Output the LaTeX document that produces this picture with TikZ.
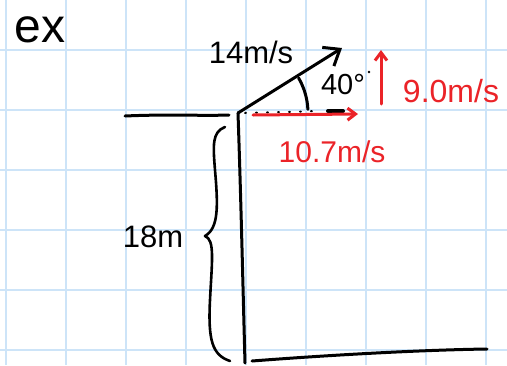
\documentclass[tikz,border=0pt]{standalone}
\usepackage{fontspec}
\setmainfont{Liberation Sans}
\usetikzlibrary{arrows.meta}
\definecolor{gridblue}{RGB}{205,228,248}
\definecolor{inkred}{RGB}{235,35,40}
\tikzset{
  ink/.style={line width=3pt, line cap=round, line join=round, black},
  redink/.style={line width=3pt, line cap=round, line join=round, inkred},
  hand/.style={font=\fontsize{30}{30}\selectfont, inner sep=0pt},
  barb/.style={-{Straight Barb[length=14pt,width=22pt,line width=3pt]}},
  smallbarb/.style={-{Straight Barb[length=8pt,width=12pt,line width=3pt]}}
}
\begin{document}
\begin{tikzpicture}[x=1pt,y=-1pt]
\useasboundingbox (0,0) rectangle (507,365);
\fill[white] (0,0) rectangle (507,365);
% grid
\foreach \gx in {6,66,...,486} \draw[gridblue, line width=2pt] (\gx,0) -- (\gx,365);
\foreach \gy in {50,110,...,350} \draw[gridblue, line width=2pt] (0,\gy) -- (507,\gy);

% coordinates
\coordinate (corner) at (238,113);
\coordinate (topL) at (125,116);
\coordinate (topR) at (229,115);
\coordinate (cliffB) at (245,363);
\coordinate (grL) at (252,361);
\coordinate (grR) at (487,349);
\coordinate (vtip) at (342,48);
\coordinate (vxtip) at (358,114);
\coordinate (vxstart) at (253,115);
\coordinate (vybot) at (381,104);
\coordinate (vytop) at (381,50);

% text
\node[hand, font=\fontsize{48}{48}\selectfont] (ex) at (40,30) {ex};
\node[hand, font=\fontsize{31}{31}\selectfont] (v) at (251,52) {14m/s};
\node[hand, font=\fontsize{29}{29}\selectfont] (ang) at (343,85) {40°};
\node[hand, font=\fontsize{31}{31}\selectfont] (h) at (153,237) {18m};
\node[hand, inkred, font=\fontsize{30}{30}\selectfont] (vx) at (332,152) {10.7m/s};
\node[hand, inkred, font=\fontsize{32}{32}\selectfont] (vy) at (451,91) {9.0m/s};

% cliff
\draw[ink] (topL) .. controls (170,114) and (200,116) .. (topR);
\draw[ink] (corner) .. controls (241,200) and (243,290) .. (cliffB);
\draw[ink] (grL) .. controls (330,355) and (420,350) .. (grR);

% brace
\draw[ink, line width=2.6pt] (225,127) .. controls (212,132) and (213,145) .. (215,170)
  .. controls (218,205) and (219,228) .. (205,236)
  .. controls (215,240) and (212,260) .. (210,300)
  .. controls (208,340) and (212,355) .. (230,361);

% velocity
\draw[ink, barb] (corner) -- (vtip);
\draw[ink] (corner) ++(-30:70) arc[start angle=-30, end angle=-3, radius=70];
\fill (369,72) circle (1.3);
\draw[black, line width=2pt, dash pattern=on 1pt off 10pt, line cap=round] (245,113) -- (320,111);
\draw[black, line width=4pt, line cap=round] (328,111) -- (343,111);

% components
\draw[redink, smallbarb] (vxstart) -- (vxtip);
\draw[redink, smallbarb] (vybot) -- (vytop);
\end{tikzpicture}
\end{document}
